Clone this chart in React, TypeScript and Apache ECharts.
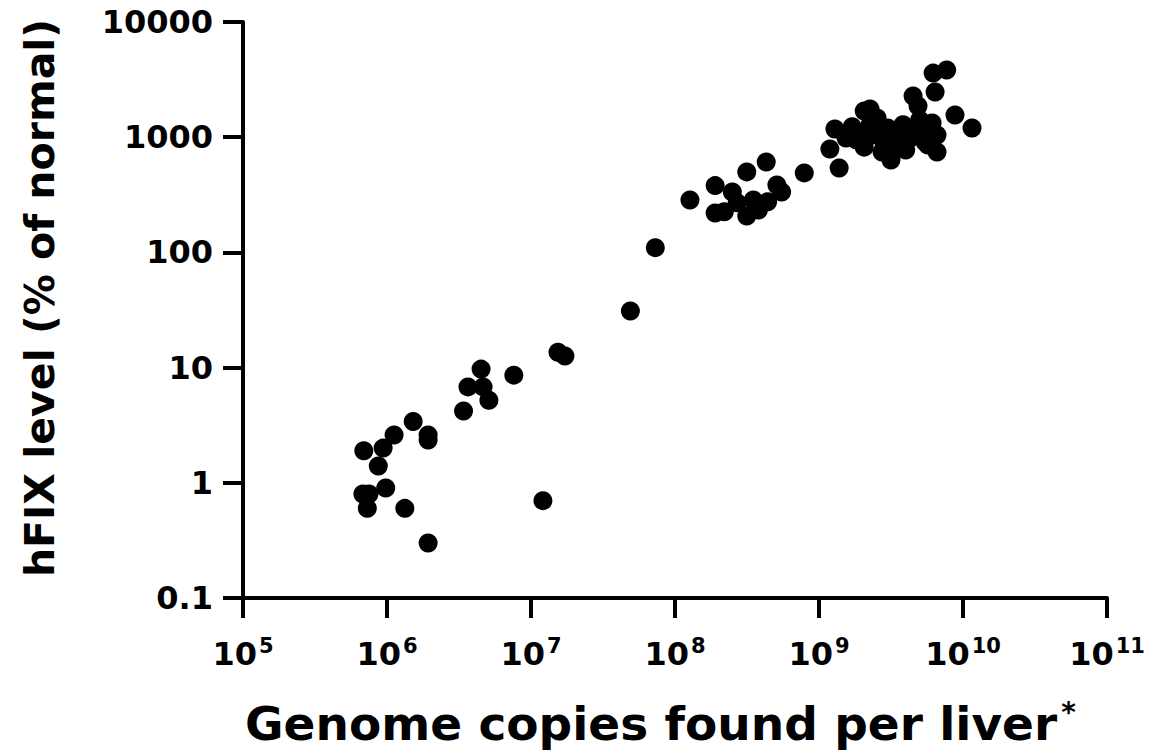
import React, { useEffect, useRef } from "react";
import * as echarts from "echarts";

const genomeCopies: number[] = [
  6.9e5, 6.8e5, 7.5e5, 7.3e5, 8.7e5, 9.4e5, 9.8e5, 1.12e6, 1.33e6, 1.52e6, 1.93e6, 1.93e6, 1.93e6,
  3.4e6, 3.65e6, 4.5e6, 4.65e6, 5.1e6, 7.6e6, 1.21e7, 1.54e7, 1.72e7, 4.9e7, 7.3e7,
  1.27e8, 1.9e8, 1.9e8, 2.2e8, 2.5e8, 2.7e8, 3.15e8, 3.15e8, 3.5e8, 3.8e8, 4.3e8, 4.4e8, 5.1e8, 5.5e8, 7.9e8,
  1.19e9, 1.29e9, 1.38e9, 1.54e9, 1.7e9, 1.81e9, 2.06e9, 2.26e9, 2.06e9, 2.33e9, 2.53e9, 2.65e9, 2.83e9,
  3.0e9, 3.16e9, 3.37e9, 3.6e9, 3.83e9, 4.0e9, 4.3e9, 4.5e9, 4.87e9, 5.0e9, 5.36e9, 5.7e9, 6.1e9, 6.2e9,
  6.4e9, 6.6e9, 6.6e9, 7.7e9, 8.8e9, 1.155e10, 4.6e9, 3.2e9, 2.9e9,
  3.0e9, 2.26e9, 5.45e9, 2.74e9, 1.87e9,
];

const hfixLevel: number[] = [
  1.9, 0.8, 0.8, 0.6, 1.4, 2.0, 0.9, 2.6, 0.6, 3.4, 2.6, 2.35, 0.3,
  4.2, 6.8, 9.7, 6.8, 5.2, 8.6, 0.7, 13.6, 12.6, 31, 110,
  285, 380, 220, 225, 335, 270, 500, 207, 285, 233, 610, 275, 385, 335, 490,
  790, 1180, 540, 985, 1230, 950, 1690, 1760, 820, 1045, 1470, 1230, 890,
  1200, 635, 805, 1020, 1280, 775, 985, 2280, 1870, 1410, 1110, 855, 1330, 3600,
  2470, 1045, 745, 3830, 1560, 1200, 1150, 1100, 1000,
  946, 1276, 908, 745, 1087,
];

const xTitle = "Genome copies found per liver";
const yTitle = "hFIX level (% of normal)";
const FONT = "DejaVu Sans";

export default function App() {
  const ref = useRef<HTMLDivElement>(null);
  useEffect(() => {
    if (!ref.current) return;
    const chart = echarts.init(ref.current, null, { renderer: "svg" });
    const points = genomeCopies.map((g, i) => [g, hfixLevel[i]]);
    chart.setOption({
      animation: false,
      backgroundColor: "#ffffff",
      grid: { left: 243, right: 62, top: 22, bottom: 156, containLabel: false },
      xAxis: {
        type: "log",
        logBase: 10,
        min: 1e5,
        max: 1e11,
        splitLine: { show: false },
        minorTick: { show: false },
        axisLine: { show: true, onZero: false, lineStyle: { color: "#000", width: 4 } },
        axisTick: { show: true, inside: false, length: 20, lineStyle: { color: "#000", width: 4 } },
        axisLabel: {
          margin: 38,
          color: "#000",
          fontFamily: FONT,
          fontWeight: "bold",
          formatter: (v: number) => `{b|10}{s|${Math.round(Math.log10(v))}}`,
          rich: {
            b: { fontSize: 32, fontWeight: "bold", fontFamily: FONT, color: "#000", lineHeight: 36 },
            s: { fontSize: 21, fontWeight: "bold", fontFamily: FONT, color: "#000", lineHeight: 36, padding: [0, 0, 16, 2] },
          },
        },
      },
      yAxis: {
        type: "log",
        logBase: 10,
        min: 0.1,
        max: 10000,
        splitLine: { show: false },
        minorTick: { show: false },
        axisLine: { show: true, onZero: false, lineStyle: { color: "#000", width: 4 } },
        axisTick: { show: true, inside: false, length: 20, lineStyle: { color: "#000", width: 4 } },
        axisLabel: {
          margin: 30,
          color: "#000",
          fontSize: 32,
          fontWeight: "bold",
          fontFamily: FONT,
          formatter: (v: number) => (v < 1 ? String(Number(v.toFixed(1))) : String(Math.round(v))),
        },
      },
      graphic: [
        {
          type: "text",
          left: 245,
          top: 698,
          style: {
            text: `{t|${xTitle}}{a|*}`,
            rich: {
              t: { fontSize: 47, fontWeight: "bold", fontFamily: FONT, fill: "#000", lineHeight: 50 },
              a: { fontSize: 28, fontWeight: "bold", fontFamily: FONT, fill: "#000", lineHeight: 50, padding: [0, 0, 22, 4] },
            },
          },
        },
        {
          type: "text",
          x: 40,
          y: 298,
          rotation: Math.PI / 2,
          style: {
            text: yTitle,
            fontSize: 41,
            fontWeight: "bold",
            fontFamily: FONT,
            fill: "#000",
            align: "center",
            verticalAlign: "middle",
          },
        },
      ],
      series: [
        {
          type: "scatter",
          data: points,
          symbol: "circle",
          symbolSize: 19,
          itemStyle: { color: "#000", opacity: 1 },
        },
      ],
    });
    return () => chart.dispose();
  }, []);
  return <div ref={ref} style={{ width: 1169, height: 754, position: "absolute", left: 0, top: 0 }} />;
}
